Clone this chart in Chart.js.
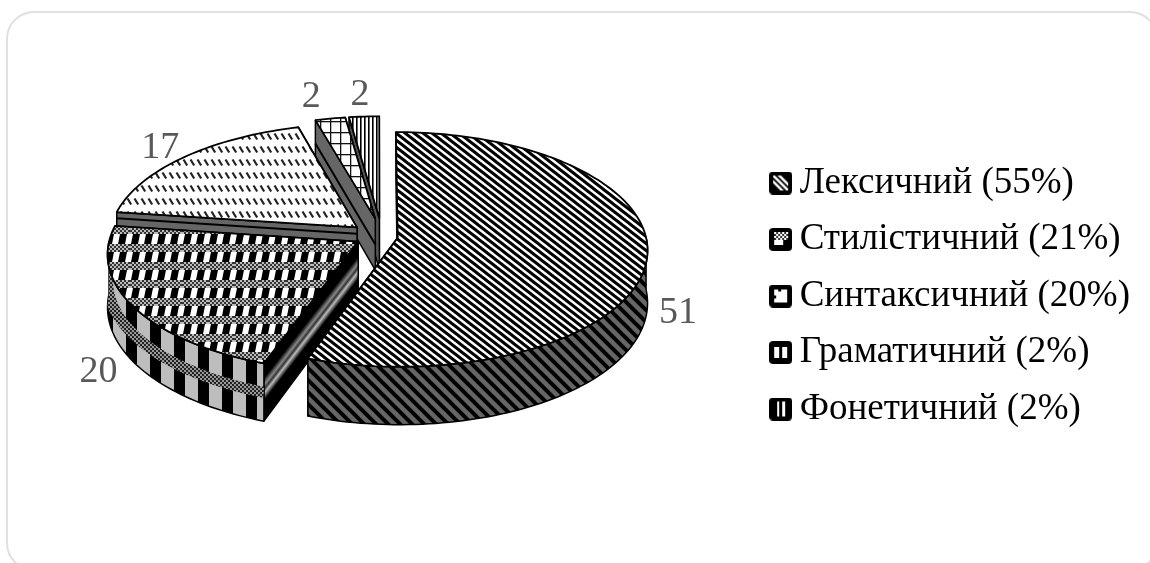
<!DOCTYPE html>
<html>
<head>
<meta charset="utf-8">
<style>
  html, body { margin: 0; padding: 0; background: #fff; overflow: hidden; }
  #wrap { position: relative; width: 1150px; height: 563px; overflow: hidden; }
  #card { position: absolute; left: 6px; top: 11px; width: 1152px; height: 560px;
          border: 2px solid #e0e0e0; border-radius: 28px; box-sizing: border-box; }
  canvas { position: absolute; left: 0; top: 0; }
</style>
<script src="https://cdn.jsdelivr.net/npm/chart.js@4"></script>
</head>
<body>
<div id="wrap">
  <div id="card"></div>
  <canvas id="myChart" width="1150" height="563"></canvas>
</div>
<script>
const categories = ['Лексичний (55%)', 'Стилістичний (21%)', 'Синтаксичний (20%)', 'Граматичний (2%)', 'Фонетичний (2%)'];
const seriesValues = [51, 20, 17, 2, 2];
const valueLabels = ['51', '20', '17', '2', '2'];

// how far each slice is pulled out of the pie
const explode = [20, 23, 28, 38, 38];
const drift = [0, 0, 0, 5, 4];
const labelNudge = [[31, 55], [-34, 66], [-24, -9], [-19, -22], [-4, -22]];

// fake 3d view
const view = { cx: 378, cy: 236, tilt: 0.467, persp: 0.000406, depth: 52 };

function tile(w, h, paint) {
    const c = document.createElement('canvas');
    c.width = w;
    c.height = h;
    paint(c.getContext('2d'));
    return c;
}

function dither(g, x0, y0, w, h, size, a, b) {
    for (let y = 0; y < h; y += size) {
        for (let x = 0; x < w; x += size) {
            g.fillStyle = ((x + y) / size) % 2 === 0 ? a : b;
            g.fillRect(x0 + x, y0 + y, size, size);
        }
    }
}

const tileStripes = tile(9, 7, g => {
    g.fillStyle = '#fff';
    g.fillRect(0, 0, 9, 7);
    g.strokeStyle = '#000';
    g.lineWidth = 3;
    [-9, 0, 9].forEach(o => {
        g.beginPath();
        g.moveTo(o - 9, -7);
        g.lineTo(o + 18, 14);
        g.stroke();
    });
});

const tileStripesDark = tile(12, 12, g => {
    g.fillStyle = '#666';
    g.fillRect(0, 0, 12, 12);
    g.strokeStyle = '#000';
    g.lineWidth = 4;
    [-12, 0, 12].forEach(o => {
        g.beginPath();
        g.moveTo(o - 12, -12);
        g.lineTo(o + 24, 24);
        g.stroke();
    });
});

const tileBlocks = tile(26, 18, g => {
    g.fillStyle = '#fff';
    g.fillRect(0, 0, 26, 18);
    g.fillStyle = '#000';
    [0, 13].forEach(o => {
        g.beginPath();
        g.moveTo(o + 3, 0);
        g.lineTo(o + 10, 0);
        g.lineTo(o + 8, 10);
        g.lineTo(o + 1, 10);
        g.closePath();
        g.fill();
    });
    dither(g, 0, 10, 26, 8, 2, '#333', '#bbb');
});

const tileColumns = tile(24, 40, g => {
    g.fillStyle = '#bdbdbd';
    g.fillRect(0, 0, 24, 40);
    g.fillStyle = '#000';
    g.fillRect(6, 0, 11, 40);
});

const tileDither = tile(4, 4, g => dither(g, 0, 0, 4, 4, 2, '#222', '#999'));

const tileDashes = tile(7, 13, g => {
    g.fillStyle = '#fff';
    g.fillRect(0, 0, 7, 13);
    g.strokeStyle = '#222';
    g.lineWidth = 2.2;
    g.beginPath();
    g.moveTo(1.5, 3.5);
    g.lineTo(5.2, 9.5);
    g.stroke();
});

const tileGrid = tile(10, 11, g => {
    g.fillStyle = '#fff';
    g.fillRect(0, 0, 10, 11);
    g.fillStyle = '#111';
    g.fillRect(0, 0, 1.3, 11);
    g.fillRect(0, 0, 10, 1.3);
});

const tileLines = tile(4, 4, g => {
    g.fillStyle = '#fff';
    g.fillRect(0, 0, 4, 4);
    g.fillStyle = '#000';
    g.fillRect(0, 0, 1.6, 4);
});

function pat(c) {
    return c.getContext('2d').createPattern(c, 'repeat');
}

const topFills = [pat(tileStripes), pat(tileBlocks), pat(tileDashes), pat(tileGrid), pat(tileLines)];
const wallFills = [pat(tileStripesDark), pat(tileColumns), '#666', '#666', '#555'];
const cutLines = [0, 0, 0.12, 0.5, 0];
const ditherBand = pat(tileDither);

function marker(paintInner) {
    return tile(23, 23, g => {
        g.fillStyle = '#000';
        g.beginPath();
        g.roundRect(0, 0, 23, 23, 4);
        g.fill();
        paintInner(g);
    });
}

const legendMarkers = [
    marker(g => {
        g.strokeStyle = '#fff';
        g.lineWidth = 2.5;
        g.save();
        g.beginPath();
        g.rect(4, 4, 15, 15);
        g.clip();
        [-6, 0, 6].forEach(o => {
            g.beginPath();
            g.moveTo(o, 0);
            g.lineTo(o + 23, 23);
            g.stroke();
        });
        g.restore();
    }),
    marker(g => {
        dither(g, 5, 4, 14, 8, 2, '#fff', '#333');
        g.fillStyle = '#fff';
        g.fillRect(5, 12, 9, 5);
    }),
    marker(g => {
        g.fillStyle = '#fff';
        g.fillRect(5, 5, 13, 13);
        g.fillStyle = '#000';
        g.fillRect(9, 5, 3, 2);
        g.fillRect(5, 11, 2, 3);
    }),
    marker(g => {
        g.fillStyle = '#fff';
        g.fillRect(5, 6, 5, 11);
        g.fillRect(13, 6, 5, 11);
    }),
    marker(g => {
        g.fillStyle = '#fff';
        g.fillRect(8, 4, 2, 15);
        g.fillRect(13, 4, 3, 15);
    })
];

function project(u, v, z) {
    const f = 1 / (1 - view.persp * v);
    return { x: view.cx + u * f, y: view.cy + (view.tilt * v + (z || 0)) * f };
}

// context handed to arc.draw, it sends the flat pie through project()
function perspectiveCtx(ctx, arc, du, dv) {
    const map = (x, y) => project(x - arc.x + du, y - arc.y + dv);
    const started = { on: false };
    const put = (x, y) => {
        const p = map(x, y);
        if (started.on) {
            ctx.lineTo(p.x, p.y);
        } else {
            ctx.moveTo(p.x, p.y);
            started.on = true;
        }
    };
    return new Proxy(ctx, {
        get(t, name) {
            if (name === 'beginPath') return () => { started.on = false; t.beginPath(); };
            if (name === 'moveTo') return (x, y) => { started.on = false; put(x, y); };
            if (name === 'lineTo') return put;
            if (name === 'arc') {
                return (x, y, r, a, b, ccw) => {
                    const n = Math.max(2, Math.ceil(Math.abs(b - a) * 40));
                    for (let i = 0; i <= n; i++) {
                        const ang = a + (b - a) * i / n;
                        put(x + r * Math.cos(ang), y + r * Math.sin(ang));
                    }
                };
            }
            if (name === 'translate') return () => {};
            const val = t[name];
            return typeof val === 'function' ? val.bind(t) : val;
        },
        set(t, name, val) {
            t[name] = val;
            return true;
        }
    });
}

function polygon(ctx, pts, fill) {
    ctx.beginPath();
    pts.forEach((p, i) => (i ? ctx.lineTo(p.x, p.y) : ctx.moveTo(p.x, p.y)));
    ctx.closePath();
    ctx.fillStyle = fill;
    ctx.fill();
    ctx.lineWidth = 1.5;
    ctx.lineJoin = 'round';
    ctx.strokeStyle = '#000';
    ctx.stroke();
}

function drawCutWall(ctx, i, ang, r, du, dv) {
    const rimU = du + r * Math.cos(ang);
    const rimV = dv + r * Math.sin(ang);
    const a = project(du, dv);
    const b = project(rimU, rimV);
    const a2 = project(du, dv, view.depth);
    const b2 = project(rimU, rimV, view.depth);
    let fill = wallFills[i];
    if (i === 1) {
        // the cut side of this slice looks like a band of lines
        const ex = b.x - a.x;
        const ey = b.y - a.y;
        const len = Math.hypot(ex, ey);
        const nx = -ey / len;
        const ny = ex / len;
        const s = ny < 0 ? -1 : 1;
        const h = Math.abs(ny) * view.depth;
        fill = ctx.createLinearGradient(a.x, a.y, a.x + nx * s * h, a.y + ny * s * h);
        fill.addColorStop(0, '#000');
        fill.addColorStop(0.28, '#000');
        fill.addColorStop(0.42, '#888');
        fill.addColorStop(0.5, '#333');
        fill.addColorStop(0.58, '#bbb');
        fill.addColorStop(0.72, '#000');
        fill.addColorStop(1, '#000');
    }
    polygon(ctx, [a, b, b2, a2], fill);
    if (cutLines[i]) {
        const m1 = project(du, dv, view.depth * cutLines[i]);
        const m2 = project(rimU, rimV, view.depth * cutLines[i]);
        ctx.beginPath();
        ctx.moveTo(m1.x, m1.y);
        ctx.lineTo(m2.x, m2.y);
        ctx.lineWidth = 2;
        ctx.stroke();
    }
}

function drawOuterWall(ctx, i, a1, a2, r, du, dv) {
    const from = Math.max(a1, 0);
    const to = Math.min(a2, Math.PI);
    if (to <= from) return;
    const upper = [];
    const lower = [];
    const mid = [];
    const n = Math.ceil((to - from) * 40);
    for (let k = 0; k <= n; k++) {
        const ang = from + (to - from) * k / n;
        const u = du + r * Math.cos(ang);
        const v = dv + r * Math.sin(ang);
        upper.push(project(u, v));
        mid.push(project(u, v, view.depth * 0.5));
        lower.unshift(project(u, v, view.depth));
    }
    polygon(ctx, upper.concat(lower), wallFills[i]);
    if (i === 1) {
        // dither band that follows the rim, kept inside the wall
        ctx.save();
        ctx.clip();
        ctx.beginPath();
        mid.forEach((p, k) => (k ? ctx.lineTo(p.x, p.y) : ctx.moveTo(p.x, p.y)));
        ctx.strokeStyle = ditherBand;
        ctx.lineWidth = 11;
        ctx.lineCap = 'butt';
        ctx.stroke();
        ctx.restore();
    }
}

function sliceShift(arc, i) {
    const mid = (arc.startAngle + arc.endAngle) / 2;
    return {
        du: Math.cos(mid) * explode[i] + drift[i],
        dv: Math.sin(mid) * explode[i],
        mid
    };
}

const pie3d = {
    id: 'pie3d',
    beforeDatasetDraw(chart, args) {
        const ctx = chart.ctx;
        const arcs = args.meta.data;
        // back slices first
        for (let i = arcs.length - 1; i >= 0; i--) {
            const arc = arcs[i];
            const { du, dv } = sliceShift(arc, i);
            const r = arc.outerRadius;
            // the cut side further back goes first
            const cuts = [arc.startAngle, arc.endAngle].sort((p, q) => Math.sin(p) - Math.sin(q));
            ctx.save();
            cuts.forEach(ang => drawCutWall(ctx, i, ang, r, du, dv));
            drawOuterWall(ctx, i, arc.startAngle, arc.endAngle, r, du, dv);
            ctx.restore();
            arc.draw(perspectiveCtx(ctx, arc, du, dv));
        }
        return false;
    },
    afterDatasetsDraw(chart) {
        const ctx = chart.ctx;
        const arcs = chart.getDatasetMeta(0).data;
        ctx.save();
        ctx.font = "38px 'Liberation Serif'";
        ctx.fillStyle = '#595959';
        ctx.textAlign = 'center';
        ctx.textBaseline = 'middle';
        arcs.forEach((arc, i) => {
            const { du, dv, mid } = sliceShift(arc, i);
            const p = project(du + arc.outerRadius * Math.cos(mid), dv + arc.outerRadius * Math.sin(mid));
            ctx.fillText(valueLabels[i], p.x + labelNudge[i][0], p.y + labelNudge[i][1]);
        });
        ctx.restore();
    }
};

const chartInstance = new Chart(document.getElementById('myChart').getContext('2d'), {
    type: 'pie',
    data: {
        labels: categories,
        datasets: [{
            data: seriesValues,
            backgroundColor: topFills,
            borderColor: '#000',
            borderWidth: 1.8,
            radius: 248
        }]
    },
    options: {
        responsive: false,
        animation: false,
        events: [],
        layout: { padding: { top: 29, right: 10, left: 0, bottom: 0 } },
        plugins: {
            tooltip: { enabled: false },
            legend: {
                position: 'right',
                labels: {
                    color: '#000',
                    font: { family: "'Liberation Serif'", size: 37 },
                    boxWidth: 1,
                    usePointStyle: true,
                    padding: 19.5,
                    generateLabels() {
                        return categories.map((text, i) => ({
                            text,
                            pointStyle: legendMarkers[i],
                            fontColor: '#000',
                            lineWidth: 0,
                            index: i
                        }));
                    }
                }
            }
        }
    },
    plugins: [pie3d]
});
</script>
</body>
</html>
